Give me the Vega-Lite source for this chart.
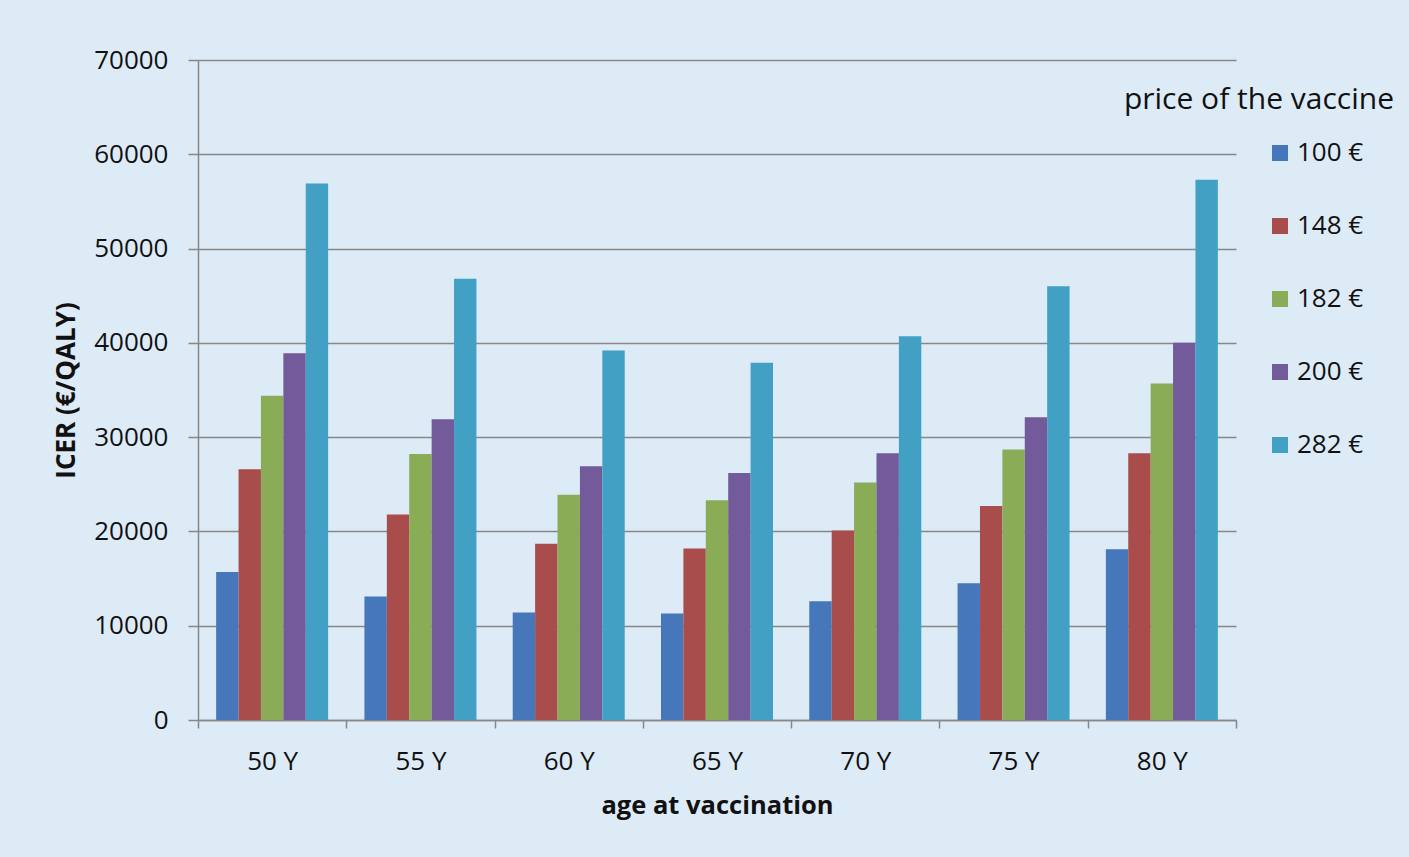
{
  "$schema": "https://vega.github.io/schema/vega-lite/v6.json",
  "width": 1038,
  "height": 660,
  "autosize": "none",
  "padding": {"left": 198, "top": 60, "right": 173, "bottom": 137},
  "background": "#DDEBF7",
  "title": {
    "text": "price of the vaccine",
    "anchor": "end",
    "orient": "top",
    "frame": "group",
    "font": "Open Sans",
    "fontSize": 30,
    "fontWeight": "normal",
    "color": "#111111",
    "baseline": "alphabetic",
    "offset": 0,
    "dx": 158,
    "dy": 92
  },
  "config": {
    "view": {"stroke": null},
    "font": "Open Sans"
  },
  "data": {
    "values": [
      {"age": "50 Y", "price": "100 €", "icer": 15700},
      {"age": "50 Y", "price": "148 €", "icer": 26600},
      {"age": "50 Y", "price": "182 €", "icer": 34400},
      {"age": "50 Y", "price": "200 €", "icer": 38900},
      {"age": "50 Y", "price": "282 €", "icer": 56900},
      {"age": "55 Y", "price": "100 €", "icer": 13100},
      {"age": "55 Y", "price": "148 €", "icer": 21800},
      {"age": "55 Y", "price": "182 €", "icer": 28200},
      {"age": "55 Y", "price": "200 €", "icer": 31900},
      {"age": "55 Y", "price": "282 €", "icer": 46800},
      {"age": "60 Y", "price": "100 €", "icer": 11400},
      {"age": "60 Y", "price": "148 €", "icer": 18700},
      {"age": "60 Y", "price": "182 €", "icer": 23900},
      {"age": "60 Y", "price": "200 €", "icer": 26900},
      {"age": "60 Y", "price": "282 €", "icer": 39200},
      {"age": "65 Y", "price": "100 €", "icer": 11300},
      {"age": "65 Y", "price": "148 €", "icer": 18200},
      {"age": "65 Y", "price": "182 €", "icer": 23300},
      {"age": "65 Y", "price": "200 €", "icer": 26200},
      {"age": "65 Y", "price": "282 €", "icer": 37900},
      {"age": "70 Y", "price": "100 €", "icer": 12600},
      {"age": "70 Y", "price": "148 €", "icer": 20100},
      {"age": "70 Y", "price": "182 €", "icer": 25200},
      {"age": "70 Y", "price": "200 €", "icer": 28300},
      {"age": "70 Y", "price": "282 €", "icer": 40700},
      {"age": "75 Y", "price": "100 €", "icer": 14500},
      {"age": "75 Y", "price": "148 €", "icer": 22700},
      {"age": "75 Y", "price": "182 €", "icer": 28700},
      {"age": "75 Y", "price": "200 €", "icer": 32100},
      {"age": "75 Y", "price": "282 €", "icer": 46000},
      {"age": "80 Y", "price": "100 €", "icer": 18100},
      {"age": "80 Y", "price": "148 €", "icer": 28300},
      {"age": "80 Y", "price": "182 €", "icer": 35700},
      {"age": "80 Y", "price": "200 €", "icer": 40000},
      {"age": "80 Y", "price": "282 €", "icer": 57300}
    ]
  },
  "mark": {"type": "bar"},
  "encoding": {
    "x": {
      "field": "age",
      "type": "nominal",
      "sort": ["50 Y", "55 Y", "60 Y", "65 Y", "70 Y", "75 Y", "80 Y"],
      "scale": {"paddingInner": 0, "paddingOuter": 0},
      "axis": {
        "title": "age at vaccination",
        "titleFont": "Open Sans",
        "titleFontSize": 25.5,
        "titleFontWeight": "bold",
        "titleColor": "#111111",
        "titlePadding": 19,
        "labelAngle": 0,
        "labelFont": "Open Sans",
        "labelFontSize": 26,
        "labelColor": "#111111",
        "labelPadding": 20,
        "tickBand": "extent",
        "ticks": true,
        "tickSize": 8,
        "tickColor": "#878787",
        "tickWidth": 1.5,
        "domainColor": "#878787",
        "domainWidth": 1.5,
        "grid": false
      }
    },
    "xOffset": {
      "field": "price",
      "type": "nominal",
      "sort": ["100 €", "148 €", "182 €", "200 €", "282 €"],
      "scale": {"paddingInner": 0, "paddingOuter": 0.81}
    },
    "y": {
      "field": "icer",
      "type": "quantitative",
      "scale": {"domain": [0, 70000], "nice": false},
      "axis": {
        "title": "ICER (€/QALY)",
        "titleFont": "Open Sans",
        "titleFontSize": 26,
        "titleFontWeight": "bold",
        "titleColor": "#111111",
        "titlePadding": 14,
        "values": [0, 10000, 20000, 30000, 40000, 50000, 60000, 70000],
        "format": "d",
        "labelFont": "Open Sans",
        "labelFontSize": 26,
        "labelColor": "#111111",
        "labelPadding": 20,
        "tickSize": 10,
        "tickColor": "#878787",
        "tickWidth": 1.5,
        "domainColor": "#878787",
        "domainWidth": 1.5,
        "grid": true,
        "gridColor": "#878787",
        "gridWidth": 1.5
      }
    },
    "color": {
      "field": "price",
      "type": "nominal",
      "sort": ["100 €", "148 €", "182 €", "200 €", "282 €"],
      "scale": {
        "domain": ["100 €", "148 €", "182 €", "200 €", "282 €"],
        "range": ["#4677BA", "#A84C4C", "#8AAC56", "#725A9B", "#41A0C4"]
      },
      "legend": {
        "title": null,
        "orient": "none",
        "legendX": 1069,
        "legendY": 80,
        "symbolType": "square",
        "symbolSize": 256,
        "symbolStrokeWidth": 0,
        "labelFont": "Open Sans",
        "labelFontSize": 26,
        "labelColor": "#111111",
        "labelOffset": 4,
        "rowPadding": 47
      }
    }
  }
}
